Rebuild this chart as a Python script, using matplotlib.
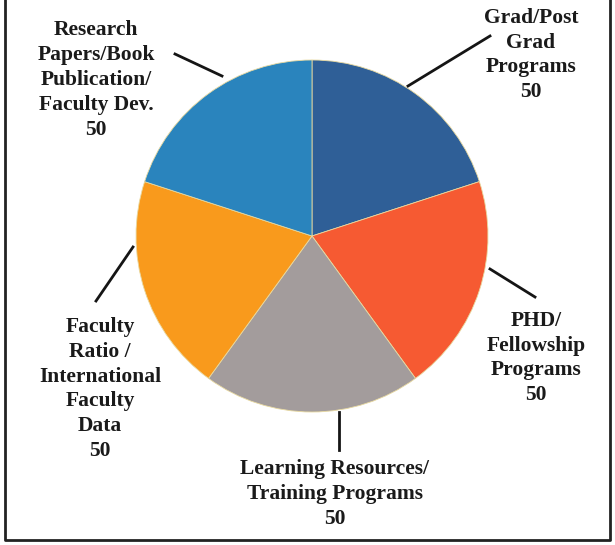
import matplotlib.pyplot as plt
import numpy as np

# slice data, clockwise from the top
labels = ['Grad/Post\nGrad\nPrograms',
          'PHD/\nFellowship\nPrograms',
          'Learning Resources/\nTraining Programs',
          'Faculty\nRatio /\nInternational\nFaculty\nData',
          'Research\nPapers/Book\nPublication/\nFaculty Dev.']
values = [50, 50, 50, 50, 50]
colors = ['#2f5f97', '#f65a32', '#a39c9c', '#f99a1c', '#2a84bd']

# figure in pixel-like data coords (y up)
W, H = 615, 545
fig = plt.figure(figsize=(6.15, 5.45), dpi=100)
ax = fig.add_axes([0, 0, 1, 1])

cx, cy, r = 312, H - 236, 176
ax.pie(values, colors=colors, startangle=90, counterclock=False,
       center=(cx, cy), radius=r, frame=True,
       wedgeprops=dict(edgecolor='#e8d9a0', linewidth=0.6))
ax.set_xlim(0, W)
ax.set_ylim(0, H)
ax.set_aspect('equal')
ax.axis('off')

# leader lines (start, end in image pixels) and label centres
leaders = [((408, 86), (490, 36)),
           ((490, 269), (535, 297)),
           ((339, 412), (339, 450)),
           ((133, 247), (96, 301)),
           ((222, 76), (175, 54))]
label_pos = [(531, 55), (536, 358), (335, 494), (100, 389), (96, 80)]

for lab, v, (p0, p1), (tx, ty) in zip(labels, values, leaders, label_pos):
    ax.plot([p0[0], p1[0]], [H - p0[1], H - p1[1]], color='#151515', lw=2)
    ax.text(tx, H - ty, f'{lab}\n{v}', ha='center', va='center',
            fontsize=15.5, fontweight='bold', family='Liberation Serif',
            color='#1a1a1a', linespacing=1.33)

# frame around the scan
ax.plot([5, 5, 610, 610], [H, H - 540, H - 540, H], color='#222222', lw=2)

fig.savefig('out.png', dpi=100, facecolor='white')
